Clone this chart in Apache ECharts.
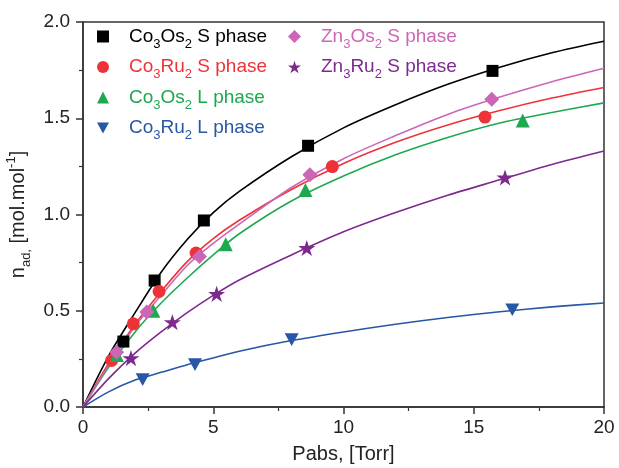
<!DOCTYPE html>
<html>
<head>
<meta charset="utf-8">
<script src="https://cdn.jsdelivr.net/npm/echarts@6/dist/echarts.min.js"></script>
<style>
  html, body { margin: 0; padding: 0; background: #fff; }
  #chart { width: 619px; height: 468px; }
</style>
</head>
<body>
<div id="chart"></div>
<script>
// names and colours of the six samples
const names = ["Co3Os2 S phase", "Co3Ru2 S phase", "Co3Os2 L phase", "Co3Ru2 L phase", "Zn3Os2 S phase", "Zn3Ru2 S phase"];
const colors = ["#000000", "#ee3338", "#1ea850", "#2757a6", "#cc66b5", "#7d2a8f"];

// measured points (Pabs in Torr, n_ad)
const coOsSx = [1.55, 2.75, 4.64, 8.64, 15.72];
const coOsSy = [0.34, 0.657, 0.969, 1.357, 1.746];
const coRuSx = [1.1, 1.93, 2.92, 4.34, 9.57, 15.43];
const coRuSy = [0.242, 0.432, 0.60, 0.80, 1.249, 1.506];
const coOsLx = [1.3, 2.7, 5.48, 8.54, 16.88];
const coOsLy = [0.27, 0.50, 0.846, 1.127, 1.488];
const coRuLx = [2.29, 4.3, 8.01, 16.48];
const coRuLy = [0.142, 0.22, 0.35, 0.505];
const znOsSx = [1.29, 2.45, 4.47, 8.71, 15.69];
const znOsSy = [0.285, 0.493, 0.782, 1.206, 1.599];
const znRuSx = [1.84, 3.43, 5.13, 8.59, 16.2];
const znRuSy = [0.254, 0.441, 0.588, 0.826, 1.192];

// fitted curves at these pressures
const fitX = [0, 1, 2, 3, 4, 5, 6, 8, 10, 12, 14, 16, 18, 20];
const coOsSfit = [0, 0.27, 0.49, 0.70, 0.87, 1.01, 1.12, 1.30, 1.45, 1.57, 1.676, 1.765, 1.84, 1.90];
const coRuSfit = [0, 0.23, 0.43, 0.60, 0.755, 0.875, 0.97, 1.13, 1.265, 1.375, 1.465, 1.54, 1.605, 1.66];
const coOsLfit = [0, 0.21, 0.39, 0.54, 0.67, 0.79, 0.90, 1.07, 1.20, 1.31, 1.40, 1.475, 1.53, 1.58];
const coRuLfit = [0, 0.08, 0.14, 0.18, 0.22, 0.255, 0.29, 0.345, 0.39, 0.43, 0.465, 0.495, 0.52, 0.54];
const znOsSfit = [0, 0.22, 0.42, 0.58, 0.735, 0.85, 0.95, 1.14, 1.29, 1.41, 1.52, 1.61, 1.69, 1.76];
const znRuSfit = [0, 0.15, 0.28, 0.39, 0.49, 0.58, 0.66, 0.79, 0.91, 1.01, 1.10, 1.18, 1.26, 1.33];

const xTicks = [0, 5, 10, 15, 20];
const yTicks = [0, 0.5, 1.0, 1.5, 2.0];

const pointsX = [coOsSx, coRuSx, coOsLx, coRuLx, znOsSx, znRuSx];
const pointsY = [coOsSy, coRuSy, coOsLy, coRuLy, znOsSy, znRuSy];
const fits = [coOsSfit, coRuSfit, coOsLfit, coRuLfit, znOsSfit, znRuSfit];

const downTri = "path://M0,0L10,0L5,9Z";
const star = "path://M50,0L61.2,34.5L97.6,34.5L68.2,55.9L79.4,90.5L50,69.1L20.6,90.5L31.8,55.9L2.4,34.5L38.8,34.5Z";
const symbols = ["rect", "circle", "triangle", downTri, "diamond", star];
const sizes = [12, 13, 14, 14, 15, 17];

const font = "Liberation Sans, Arial, sans-serif";

// rich styles for the legend: main text + subscript per colour
const legendRich = {};
colors.forEach((c, i) => {
  legendRich["f" + i] = { color: c, fontSize: 19, lineHeight: 28, fontFamily: font, padding: [0, 0, 0, 15] };
  legendRich["m" + i] = { color: c, fontSize: 19, lineHeight: 28, fontFamily: font };
  legendRich["s" + i] = { color: c, fontSize: 13, lineHeight: 13, verticalAlign: "bottom", fontFamily: font };
});

const legendText = (name) => {
  const i = names.indexOf(name);
  return name
    .split(/(\d)/)
    .map((p, k) => {
      if (!p) return "";
      if (k === 0) return `{f${i}|${p}}`;
      return k % 2 ? `{s${i}|${p}}` : `{m${i}|${p}}`;
    })
    .join("");
};

const legendItem = (i) => ({ name: names[i], icon: symbols[i] });

const series = [];
names.forEach((n, i) => {
  series.push({
    name: n + " fit",
    type: "line",
    data: fitX.map((x, k) => [x, fits[i][k]]),
    smooth: 0.3,
    showSymbol: false,
    silent: true,
    lineStyle: { color: colors[i], width: 1.6 },
    z: 2,
  });
});
names.forEach((n, i) => {
  series.push({
    name: n,
    type: "scatter",
    data: pointsX[i].map((x, k) => [x, pointsY[i][k]]),
    symbol: symbols[i],
    symbolSize: sizes[i],
    symbolKeepAspect: true,
    itemStyle: { color: colors[i], opacity: 1 },
    z: 3,
  });
});

const chart = echarts.init(document.getElementById("chart"));

chart.setOption({
  animation: false,
  textStyle: { fontFamily: font },
  grid: {
    left: 83,
    right: 15,
    top: 22,
    bottom: 61,
    outerBoundsMode: "none",
    show: true,
    borderColor: "#333",
    borderWidth: 1.5,
  },
  legend: [
    {
      orient: "vertical",
      left: 97,
      top: 27,
      padding: 0,
      itemGap: 7,
      itemWidth: 12,
      itemHeight: 12,
      selectedMode: false,
      formatter: legendText,
      textStyle: { rich: legendRich },
      data: [0, 1, 2, 3].map(legendItem),
    },
    {
      orient: "vertical",
      left: 288,
      top: 27,
      padding: 0,
      itemGap: 7,
      itemWidth: 13,
      itemHeight: 13,
      selectedMode: false,
      formatter: legendText,
      textStyle: { rich: legendRich },
      data: [4, 5].map(legendItem),
    },
  ],
  xAxis: {
    type: "value",
    min: xTicks[0],
    max: xTicks[xTicks.length - 1],
    interval: 5,
    name: "Pabs, [Torr]",
    nameLocation: "middle",
    nameGap: 37,
    nameTextStyle: { fontSize: 20, color: "#222", fontFamily: font },
    axisLine: { lineStyle: { color: "#333", width: 1.5 } },
    axisTick: { show: true, length: 7, inside: false, lineStyle: { color: "#333", width: 1.5 } },
    minorTick: { show: true, splitNumber: 2, length: 4, lineStyle: { color: "#333", width: 1.2 } },
    axisLabel: { fontSize: 19, color: "#222", margin: 11, fontFamily: font },
    splitLine: { show: false },
  },
  yAxis: {
    type: "value",
    min: yTicks[0],
    max: yTicks[yTicks.length - 1],
    interval: 0.5,
    name: "{n|n}{sub|ad,}{n| [mol.mol}{sup|-1}{n|]}",
    nameLocation: "middle",
    nameGap: 48,
    nameRotate: 90,
    nameTextStyle: {
      color: "#222",
      fontFamily: font,
      rich: {
        n: { fontSize: 20, lineHeight: 28, color: "#222", fontFamily: font },
        sub: { fontSize: 13, lineHeight: 13, verticalAlign: "bottom", color: "#222", fontFamily: font },
        sup: { fontSize: 13, lineHeight: 13, verticalAlign: "top", color: "#222", fontFamily: font },
      },
    },
    axisLine: { lineStyle: { color: "#333", width: 1.5 } },
    axisTick: { show: true, length: 7, inside: false, lineStyle: { color: "#333", width: 1.5 } },
    minorTick: { show: true, splitNumber: 2, length: 4, lineStyle: { color: "#333", width: 1.2 } },
    axisLabel: {
      fontSize: 19,
      color: "#222",
      margin: 13,
      fontFamily: font,
      formatter: (v) => v.toFixed(1),
    },
    splitLine: { show: false },
  },
  series: series,
});

window.addEventListener("resize", () => chart.resize());
</script>
</body>
</html>
